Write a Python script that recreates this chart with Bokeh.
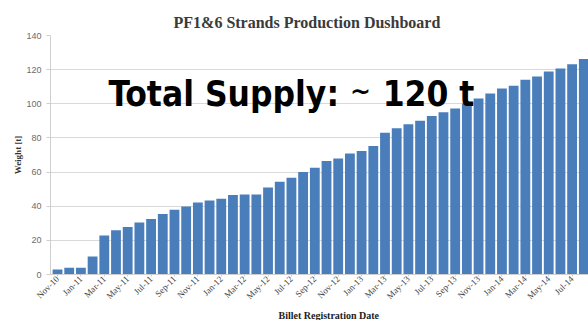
from math import pi

from bokeh.embed import file_html
from bokeh.models import ColumnDataSource, FixedTicker, Label, Range1d, Title
from bokeh.plotting import figure
from bokeh.resources import INLINE

# Billet registration months (bars), oldest first
months = [
    "Nov-10", "Dec-10",
    "Jan-11", "Feb-11", "Mar-11", "Apr-11", "May-11", "Jun-11",
    "Jul-11", "Aug-11", "Sep-11", "Oct-11", "Nov-11", "Dec-11",
    "Jan-12", "Feb-12", "Mar-12", "Apr-12", "May-12", "Jun-12",
    "Jul-12", "Aug-12", "Sep-12", "Oct-12", "Nov-12", "Dec-12",
    "Jan-13", "Feb-13", "Mar-13", "Apr-13", "May-13", "Jun-13",
    "Jul-13", "Aug-13", "Sep-13", "Oct-13", "Nov-13", "Dec-13",
    "Jan-14", "Feb-14", "Mar-14", "Apr-14", "May-14", "Jun-14",
    "Jul-14", "Aug-14",
]

# Cumulative strand weight per month [t]
weight = [
    3.0, 4.0,
    4.0, 10.6, 22.9, 25.9, 27.8, 30.4,
    32.5, 35.5, 38.0, 39.8, 42.2, 43.3,
    44.3, 46.5, 46.9, 46.9, 50.9, 54.3,
    56.7, 60.0, 62.6, 66.5, 68.0, 70.9,
    72.4, 75.3, 83.1, 85.6, 88.0, 90.0,
    92.9, 95.1, 97.3, 100.2, 103.1, 106.0,
    109.0, 110.6, 114.1, 116.0, 118.9, 120.7,
    123.2, 126.2,
]

y_ticks = [0, 20, 40, 60, 80, 100, 120, 140]

idx = list(range(len(months)))
source = ColumnDataSource(data=dict(x=idx, top=weight, month=months))

p = figure(
    width=588, height=320,
    output_backend="svg", toolbar_location=None,
    x_range=Range1d(-0.6, 45.4), y_range=Range1d(0, 140),
    min_border_left=50, min_border_right=0,
    min_border_top=35, min_border_bottom=46,
    background_fill_color="white", border_fill_color="white",
)
p.outline_line_color = None

p.vbar(x="x", top="top", width=0.84, source=source,
       fill_color="#4a7ebb", line_color=None)

# Chart title
p.title.text = "PF1&6 Strands  Production  Dushboard"
p.title.align = "left"
p.title.offset = 123
p.title.text_font = "Liberation Serif"
p.title.text_font_style = "bold"
p.title.text_font_size = "16px"
p.title.text_color = "#3a3a3a"
p.title.standoff = 9

# y axis
p.yaxis.ticker = FixedTicker(ticks=y_ticks)
p.yaxis.major_label_text_font = "Liberation Sans"
p.yaxis.major_label_text_font_size = "9px"
p.yaxis.major_label_text_color = "#6b6b6b"
p.yaxis.axis_line_color = "#cfcfcf"
p.yaxis.major_tick_line_color = "#cfcfcf"
p.yaxis.major_tick_out = 4
p.yaxis.major_tick_in = 0
p.yaxis.minor_tick_line_color = None
p.yaxis.axis_label = "Weight [t]"
p.yaxis.axis_label_text_font = "Liberation Serif"
p.yaxis.axis_label_text_font_style = "bold"
p.yaxis.axis_label_text_font_size = "9px"
p.yaxis.axis_label_text_color = "#333333"
p.yaxis.axis_label_standoff = 0

# x axis: every second month labelled
p.xaxis.ticker = FixedTicker(ticks=idx[::2])
p.xaxis.major_label_overrides = {i: months[i] for i in idx[::2]}
p.xaxis.major_label_orientation = pi / 4
p.xaxis.major_label_text_font = "Liberation Serif"
p.xaxis.major_label_text_font_size = "9px"
p.xaxis.major_label_text_color = "#444444"
p.xaxis.axis_line_color = "#cfcfcf"
p.xaxis.major_tick_line_color = "#cfcfcf"
p.xaxis.major_tick_out = 2
p.xaxis.major_tick_in = 0
p.xaxis.minor_tick_line_color = None
p.xaxis.major_label_standoff = 1

p.xgrid.grid_line_color = None
p.ygrid.grid_line_color = "#d9d9d9"

# x-axis caption, placed left of the frame centre
p.add_layout(Title(
    text="Billet Registration Date", align="left", offset=228,
    text_font="Liberation Serif", text_font_style="bold",
    text_font_size="10px", text_color="#222222", standoff=0,
), "below")

# Headline overlay
p.add_layout(Label(
    x=4.35, y=105.9, text="Total Supply:",
    text_font="DejaVu Sans Condensed", text_font_style="bold",
    text_font_size="35px", text_color="black",
    text_align="left", text_baseline="alphabetic",
))
p.add_layout(Label(
    x=25.9, y=107.1, text="~",
    text_font="DejaVu Sans", text_font_style="bold",
    text_font_size="25px", text_color="black",
    text_align="center", text_baseline="middle",
))
p.add_layout(Label(
    x=27.8, y=105.9, text="120 t",
    text_font="DejaVu Sans Condensed", text_font_style="bold",
    text_font_size="35px", text_color="black",
    text_align="left", text_baseline="alphabetic",
))

open("out.html", "w").write(file_html(p, INLINE))
